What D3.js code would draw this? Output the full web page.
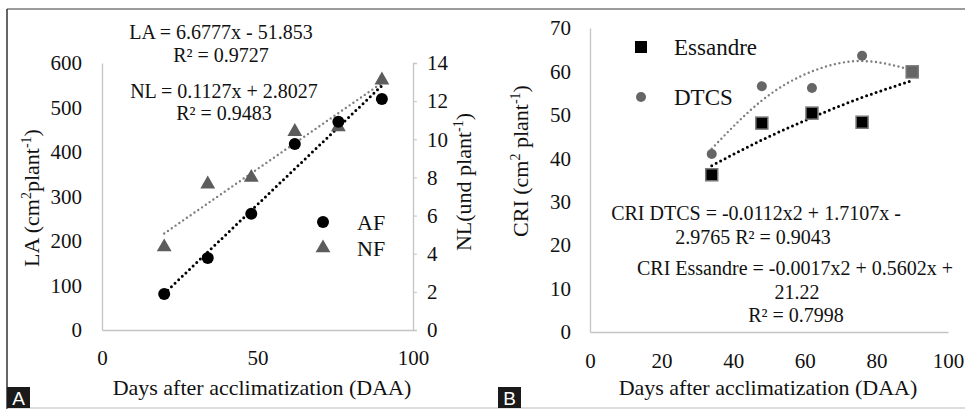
<!DOCTYPE html>
<html>
<head>
<meta charset="utf-8">
<script src="https://cdn.jsdelivr.net/npm/d3@7"></script>
<style>
  body { margin: 0; background: #fff; }
  svg { display: block; }
</style>
</head>
<body>
<div id="app"></div>
<script>
// panel A data
const daysA = [20, 34, 48, 62, 76, 90];
const leafArea = [81, 162, 261, 418, 468, 519];
const leafNumber = [4.35, 7.65, 8.0, 10.4, 10.65, 13.1];
const laTrend = [81.7, 549.1];   // at days 20 and 90
const nlTrend = [5.06, 12.95];
const trendDaysA = [20, 90];

// panel B data
const daysB = [34, 48, 62, 76, 90];
const criEssandre = [36.2, 48.1, 50.4, 48.3, 59.9];
const criDtcs = [41.0, 56.6, 56.2, 63.6, 60.0];
const essandreTrend = [38.3, 44.2, 49.4, 54.0, 57.9];
const dtcsTrend = [42.2, 53.3, 60.0, 62.4, 60.3];

const ticksA = [0, 50, 100];
const ticksLA = [0, 100, 200, 300, 400, 500, 600];
const ticksNL = [0, 2, 4, 6, 8, 10, 12, 14];
const ticksB = [0, 20, 40, 60, 80, 100];
const ticksCRI = [0, 10, 20, 30, 40, 50, 60, 70];

const W = 965, H = 409;
const axisColor = '#c4c4c4';
const SERIF = '"Liberation Serif"';
const INK = '#111';

const svg = d3.select('#app').append('svg')
  .attr('width', W)
  .attr('height', H)
  .style('font-family', SERIF);

function label(sel, x, y, txt, size, anchor) {
  return sel.append('text')
    .attr('x', x).attr('y', y)
    .attr('text-anchor', anchor || 'start')
    .attr('fill', INK)
    .style('font-family', SERIF)
    .style('font-size', size + 'px')
    .text(txt);
}

// title with superscripts, parts = [[text, isSup], ...]
function supTitle(x, y, parts) {
  const t = label(svg, 0, 0, '', 22, 'middle')
    .attr('transform', `translate(${x},${y}) rotate(-90)`);
  let up = false;
  parts.forEach(p => {
    const sp = t.append('tspan').text(p[0]);
    if (p[1] && !up) { sp.attr('dy', -8).style('font-size', '14px'); up = true; }
    else if (!p[1] && up) { sp.attr('dy', 8); up = false; }
  });
  return t;
}

//////////FRAME//////////
svg.append('line').attr('x1', 7).attr('x2', W).attr('y1', 9).attr('y2', 9)
  .attr('stroke', '#7a7a7a').attr('stroke-width', 1.5);
svg.append('line').attr('x1', 7).attr('x2', 7).attr('y1', 9).attr('y2', 409)
  .attr('stroke', '#333').attr('stroke-width', 1.5);
svg.append('line').attr('x1', 7).attr('x2', W).attr('y1', 408).attr('y2', 408)
  .attr('stroke', '#bbb').attr('stroke-width', 1);

function panelTag(x, txt) {
  svg.append('rect').attr('x', x).attr('y', 387).attr('width', 23).attr('height', 21).attr('fill', '#1a1a1a');
  svg.append('text').attr('x', x + 11.5).attr('y', 405)
    .attr('text-anchor', 'middle')
    .attr('fill', '#fff')
    .style('font-family', '"Liberation Sans"')
    .style('font-size', '19px')
    .text(txt);
}
panelTag(7, 'A');
panelTag(498, 'B');

function styleAxis(g) {
  g.attr('font-family', null).attr('font-size', null);
  g.select('.domain').attr('stroke', axisColor).attr('stroke-width', 1.3);
  g.selectAll('.tick line').attr('stroke', axisColor);
  g.selectAll('.tick text').attr('fill', INK)
    .style('font-size', '21px')
    .style('font-family', SERIF);
}

//////////PANEL A//////////
const xA = d3.scaleLinear([0, 100], [102, 413]);
const yLA = d3.scaleLinear([0, 600], [330, 63]);
const yNL = d3.scaleLinear([0, 14], [330, 63]);

svg.append('g').attr('transform', 'translate(0,330)')
  .call(d3.axisBottom(xA).tickValues(ticksA).tickSize(0).tickPadding(20).tickSizeOuter(0))
  .call(styleAxis);
svg.append('g').attr('transform', 'translate(102,0)')
  .call(d3.axisLeft(yLA).tickValues(ticksLA).tickSize(0).tickPadding(20).tickSizeOuter(0))
  .call(styleAxis);
svg.append('g').attr('transform', 'translate(413,0)')
  .call(d3.axisRight(yNL).tickValues(ticksNL).tickSize(4).tickPadding(10).tickSizeOuter(4))
  .call(styleAxis);

const lineA = (yScale) => d3.line().x((d, i) => xA(trendDaysA[i])).y(d => yScale(d));

svg.append('path').datum(nlTrend)
  .attr('d', lineA(yNL))
  .attr('fill', 'none').attr('stroke', '#7f7f7f').attr('stroke-width', 2.4)
  .attr('stroke-linecap', 'round').attr('stroke-dasharray', '0 4.6');
svg.append('path').datum(laTrend)
  .attr('d', lineA(yLA))
  .attr('fill', 'none').attr('stroke', '#000').attr('stroke-width', 3)
  .attr('stroke-linecap', 'round').attr('stroke-dasharray', '0 5');

const tri = d3.symbol().type(d3.symbolTriangle).size(95);
svg.append('g').selectAll('path')
  .data(leafNumber)
  .join('path')
  .attr('d', tri)
  .attr('transform', (d, i) => `translate(${xA(daysA[i])},${yNL(d)})`)
  .attr('fill', '#5c5c5c');

svg.append('g').selectAll('circle')
  .data(leafArea)
  .join('circle')
  .attr('cx', (d, i) => xA(daysA[i]))
  .attr('cy', d => yLA(d))
  .attr('r', 6)
  .attr('fill', '#000');

// legend A
svg.append('circle').attr('cx', 323).attr('cy', 222).attr('r', 6).attr('fill', '#000');
svg.append('path').attr('d', tri).attr('transform', 'translate(323,248)').attr('fill', '#5c5c5c');
label(svg, 357, 230, 'AF', 22);
label(svg, 357, 256, 'NF', 22);

// equations A
label(svg, 221, 39, 'LA = 6.6777x - 51.853', 20, 'middle');
label(svg, 221, 62, 'R² = 0.9727', 20, 'middle');
label(svg, 224, 98, 'NL = 0.1127x + 2.8027', 20, 'middle');
label(svg, 224, 120, 'R² = 0.9483', 20, 'middle');

// axis titles A
label(svg, 262, 395, 'Days after acclimatization (DAA)', 22, 'middle');
supTitle(39, 198, [['LA (cm'], ['2', true], ['plant'], ['-1', true], [')']]);
supTitle(471, 182, [['NL(und plant'], ['-1', true], [')']]);

//////////PANEL B//////////
const xB = d3.scaleLinear([0, 100], [590, 948]);
const yB = d3.scaleLinear([0, 70], [332, 28]);

svg.append('g').attr('transform', 'translate(0,332)')
  .call(d3.axisBottom(xB).tickValues(ticksB).tickSize(0).tickPadding(21).tickSizeOuter(0))
  .call(styleAxis);
svg.append('g').attr('transform', 'translate(590,0)')
  .call(d3.axisLeft(yB).tickValues(ticksCRI).tickSize(0).tickPadding(19).tickSizeOuter(0))
  .call(styleAxis);

const lineB = d3.line().x((d, i) => xB(daysB[i])).y(d => yB(d)).curve(d3.curveNatural);

svg.append('path').datum(dtcsTrend)
  .attr('d', lineB)
  .attr('fill', 'none').attr('stroke', '#7f7f7f').attr('stroke-width', 2.4)
  .attr('stroke-linecap', 'round').attr('stroke-dasharray', '0 4.6');
svg.append('path').datum(essandreTrend)
  .attr('d', lineB)
  .attr('fill', 'none').attr('stroke', '#000').attr('stroke-width', 3)
  .attr('stroke-linecap', 'round').attr('stroke-dasharray', '0 5');

svg.append('g').selectAll('circle')
  .data(criDtcs)
  .join('circle')
  .attr('cx', (d, i) => xB(daysB[i]))
  .attr('cy', d => yB(d))
  .attr('r', 5)
  .attr('fill', '#666');

svg.append('g').selectAll('rect')
  .data(criEssandre)
  .join('rect')
  .attr('x', (d, i) => xB(daysB[i]) - 6)
  .attr('y', d => yB(d) - 6)
  .attr('width', 12).attr('height', 12)
  .attr('fill', (d, i) => i === daysB.length - 1 ? '#666' : '#000')
  .attr('stroke', '#777').attr('stroke-width', 1.5);

// legend B
svg.append('rect').attr('x', 635).attr('y', 41).attr('width', 12).attr('height', 12).attr('fill', '#000');
svg.append('circle').attr('cx', 641).attr('cy', 97).attr('r', 5).attr('fill', '#666');
label(svg, 674, 55, 'Essandre', 23);
label(svg, 674, 105, 'DTCS', 23);

// equations B
label(svg, 756, 220, 'CRI DTCS = -0.0112x2 + 1.7107x -', 20, 'middle');
label(svg, 753, 244, '2.9765 R² = 0.9043', 20, 'middle');
label(svg, 795, 275, 'CRI Essandre = -0.0017x2 + 0.5602x +', 20, 'middle');
label(svg, 797, 299, '21.22', 20, 'middle');
label(svg, 796, 322, 'R² = 0.7998', 20, 'middle');

label(svg, 768, 395, 'Days after acclimatization (DAA)', 22, 'middle');
supTitle(528, 161, [['CRI (cm'], ['2', true], [' plant'], ['-1', true], [')']]);
</script>
</body>
</html>
